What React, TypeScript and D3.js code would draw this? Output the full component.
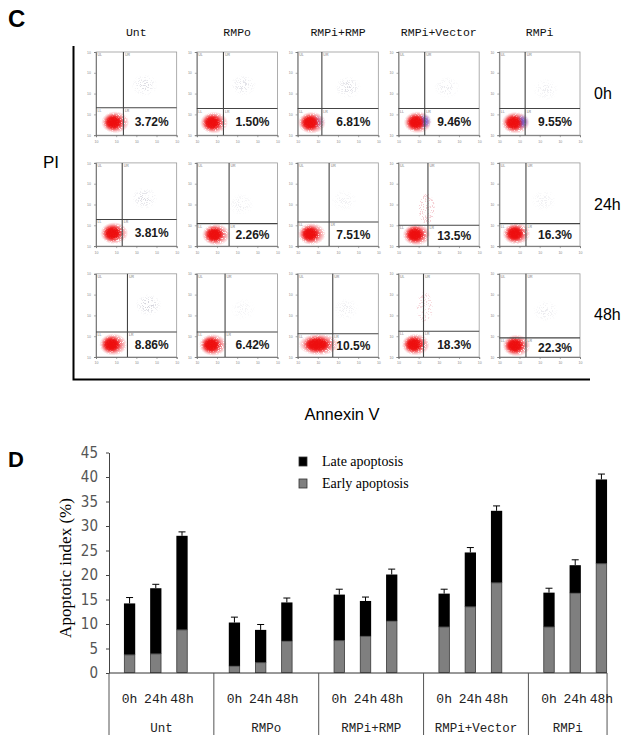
import { useRef, useEffect } from "react";
import * as d3 from "d3";

// groups and time points shared by both panels
const groups = ["Unt", "RMPo", "RMPi+RMP", "RMPi+Vector", "RMPi"];
const times = ["0h", "24h", "48h"];

// panel C: early apoptosis labels per time row, per group
const flowLabels = [
  ["3.72%", "1.50%", "6.81%", "9.46%", "9.55%"],
  ["3.81%", "2.26%", "7.51%", "13.5%", "16.3%"],
  ["8.86%", "6.42%", "10.5%", "18.3%", "22.3%"],
];
// quadrant gates (log10 decades) per time row, per group
const gateX = [
  [1.36, 1.32, 1.2, 1.3, 1.28],
  [1.3, 1.6, 1.56, 1.46, 1.32],
  [1.56, 1.4, 1.74, 1.24, 1.32],
];
const gateY = [
  [1.32, 1.28, 1.28, 1.28, 1.28],
  [1.28, 1.08, 1.16, 1.0, 1.08],
  [1.2, 1.2, 1.12, 1.24, 0.92],
];
// main (live cell) population centre, decades
const blobX = [
  [0.85, 0.75, 0.6, 0.85, 0.7],
  [0.8, 0.85, 0.6, 0.8, 0.75],
  [0.75, 0.7, 0.95, 0.75, 0.75],
];
const blobY = [
  [0.62, 0.6, 0.6, 0.62, 0.6],
  [0.62, 0.55, 0.58, 0.55, 0.6],
  [0.6, 0.58, 0.6, 0.6, 0.55],
];
// upper (late apoptotic) scatter cloud: x, y in decades, density 0..1
const upperX = [
  [2.4, 2.3, 2.5, 2.4, 2.3],
  [2.4, 2.2, 2.3, 1.4, 2.2],
  [2.6, 2.3, 2.4, 1.3, 2.3],
];
const upperY = [
  [2.4, 2.4, 2.3, 2.3, 2.2],
  [2.3, 2.0, 2.2, 1.8, 2.2],
  [2.5, 2.3, 2.3, 2.4, 2.2],
];
const upperDensity = [
  [0.6, 0.5, 0.6, 0.35, 0.3],
  [0.6, 0.3, 0.25, 0.8, 0.25],
  [0.8, 0.2, 0.3, 0.6, 0.35],
];
// blue early-apoptotic sub-population in 0h plots
const bluePop = [
  [0, 0, 0.3, 1, 1],
  [0, 0, 0, 0, 0],
  [0, 0, 0, 0, 0],
];

// panel D: per group, values for 0h, 24h, 48h
const earlyApoptosis = [
  [3.7, 3.9, 8.8],
  [1.4, 2.1, 6.5],
  [6.6, 7.5, 10.6],
  [9.4, 13.5, 18.4],
  [9.4, 16.3, 22.3],
];
const lateApoptosis = [
  [10.5, 13.4, 19.2],
  [8.9, 6.7, 7.9],
  [9.4, 7.2, 9.5],
  [6.8, 11.1, 14.7],
  [7.0, 5.7, 17.2],
];
const errorValues = [
  [1.2, 0.8, 0.8],
  [1.1, 1.1, 0.9],
  [1.1, 0.8, 1.1],
  [0.9, 1.0, 1.0],
  [0.9, 1.1, 1.1],
];
const yTicks = [0, 5, 10, 15, 20, 25, 30, 35, 40, 45];

const mono = "'Liberation Mono', 'DejaVu Sans Mono', monospace";
const arial = "'Liberation Sans', Arial, sans-serif";
const times_ = "'Liberation Serif', 'Times New Roman', serif";

const App = () => {
  const svgRef = useRef(null);

  useEffect(() => {
    const svg = d3.select(svgRef.current);
    svg.selectAll("*").remove();

    const defs = svg.append("defs");
    const mkSpeckle = (id: string, offset: number) => {
      const f = defs
        .append("filter")
        .attr("id", id)
        .attr("x", "-20%")
        .attr("y", "-20%")
        .attr("width", "140%")
        .attr("height", "140%");
      f.append("feTurbulence")
        .attr("type", "fractalNoise")
        .attr("baseFrequency", 1.4)
        .attr("numOctaves", 1)
        .attr("seed", 7)
        .attr("result", "noise");
      f.append("feColorMatrix")
        .attr("in", "noise")
        .attr("type", "matrix")
        .attr("values", `0 0 0 0 0  0 0 0 0 0  0 0 0 0 0  22 0 0 0 ${offset}`)
        .attr("result", "mask");
      f.append("feComposite")
        .attr("in", "SourceGraphic")
        .attr("in2", "mask")
        .attr("operator", "in");
    };
    mkSpeckle("speckle", -12);
    mkSpeckle("speckleDense", -8);

    const soft = defs.append("filter").attr("id", "soft");
    soft.append("feGaussianBlur").attr("stdDeviation", 0.8);

    const mkGrad = (id: string, color: string, inner: number) => {
      const g = defs.append("radialGradient").attr("id", id);
      g.append("stop").attr("offset", "0%").attr("stop-color", color).attr("stop-opacity", 1);
      g.append("stop").attr("offset", `${inner}%`).attr("stop-color", color).attr("stop-opacity", 0.95);
      g.append("stop").attr("offset", "100%").attr("stop-color", color).attr("stop-opacity", 0);
    };
    mkGrad("redCore", "#ee1111", 70);
    mkGrad("redHalo", "#ef3b44", 35);
    mkGrad("grayCloud", "#8e8ea4", 30);
    mkGrad("blueCore", "#6a5cd8", 40);

    // ---------- Panel C ----------
    const c = svg.append("g");
    c.append("text")
      .attr("x", 8)
      .attr("y", 27)
      .attr("font-family", arial)
      .attr("font-weight", "bold")
      .attr("font-size", 24)
      .text("C");

    const colBand = d3.scaleBand().domain(groups).range([96, 580]).paddingInner(0.2);
    const rowBand = d3.scaleBand().domain(times).range([52, 357]).paddingInner(0.25);

    groups.forEach((g) => {
      c.append("text")
        .attr("x", (colBand(g) || 0) + colBand.bandwidth() / 2)
        .attr("y", 36)
        .attr("text-anchor", "middle")
        .attr("font-family", mono)
        .attr("font-size", 11.5)
        .attr("fill", "#111")
        .text(g);
    });

    times.forEach((t) => {
      c.append("text")
        .attr("x", 594)
        .attr("y", (rowBand(t) || 0) + rowBand.bandwidth() / 2 + 5)
        .attr("font-family", arial)
        .attr("font-size", 16)
        .text(t);
    });

    c.append("text")
      .attr("x", 43)
      .attr("y", 168)
      .attr("font-family", arial)
      .attr("font-size", 17)
      .text("PI");

    c.append("text")
      .attr("x", 342)
      .attr("y", 420)
      .attr("text-anchor", "middle")
      .attr("font-family", arial)
      .attr("font-size", 16.5)
      .text("Annexin V");

    c.append("path")
      .attr("d", "M73.5,46V379.5H590")
      .attr("fill", "none")
      .attr("stroke", "#000")
      .attr("stroke-width", 2);

    times.forEach((t, ri) => {
      groups.forEach((g, ci) => {
        const x0 = colBand(g) || 0;
        const y0 = rowBand(t) || 0;
        const w = colBand.bandwidth();
        const h = rowBand.bandwidth();
        const xs = d3.scaleLog().domain([1, 1e4]).range([x0, x0 + w]);
        const ys = d3.scaleLog().domain([1, 1e4]).range([y0 + h, y0]);
        const p = c.append("g");

        p.append("rect")
          .attr("x", x0)
          .attr("y", y0)
          .attr("width", w)
          .attr("height", h)
          .attr("fill", "#fff")
          .attr("stroke", "#9a9a9a")
          .attr("stroke-width", 0.8);

        const decades = [1, 10, 100, 1000, 10000];
        const ax = p
          .append("g")
          .attr("transform", `translate(${x0},0)`)
          .call(d3.axisLeft(ys).tickValues(decades).tickSize(2).tickFormat(() => "10"));
        const bx = p
          .append("g")
          .attr("transform", `translate(0,${y0 + h})`)
          .call(d3.axisBottom(xs).tickValues(decades).tickSize(2).tickFormat(() => "10"));
        [ax, bx].forEach((a) => {
          a.select(".domain").attr("stroke", "#666").attr("stroke-width", 0.8);
          a.selectAll("line").attr("stroke", "#777").attr("stroke-width", 0.6);
          a.selectAll("text").attr("font-size", 3.5).attr("fill", "#888");
        });

        // upper scatter cloud
        const dens = upperDensity[ri][ci];
        const streak = ci === 3 && ri > 0;
        p.append("ellipse")
          .attr("cx", xs(10 ** upperX[ri][ci]))
          .attr("cy", ys(10 ** upperY[ri][ci]))
          .attr("rx", streak ? 8 : 13)
          .attr("ry", streak ? 15 : 11)
          .attr("fill", streak ? "#e88a96" : "url(#grayCloud)")
          .attr("opacity", dens * 0.5)
          .attr("filter", "url(#speckle)");

        // main population halo + core
        const cx = xs(10 ** blobX[ri][ci]);
        const cy = ys(10 ** blobY[ri][ci]);
        const wide = ri === 2 && ci === 2 ? 1.45 : 1;
        p.append("ellipse")
          .attr("cx", cx + 2)
          .attr("cy", cy)
          .attr("rx", 14 * wide)
          .attr("ry", 11)
          .attr("fill", "url(#redHalo)")
          .attr("filter", "url(#speckleDense)");
        if (bluePop[ri][ci] > 0) {
          p.append("ellipse")
            .attr("cx", cx + 9)
            .attr("cy", cy - 1)
            .attr("rx", 6)
            .attr("ry", 7)
            .attr("fill", "url(#blueCore)")
            .attr("opacity", bluePop[ri][ci] * 0.85)
            .attr("filter", "url(#soft)");
        }
        p.append("ellipse")
          .attr("cx", cx)
          .attr("cy", cy)
          .attr("rx", 9 * wide)
          .attr("ry", 8)
          .attr("fill", "url(#redCore)")
          .attr("filter", "url(#soft)");

        // quadrant gates
        const gx = xs(10 ** gateX[ri][ci]);
        const gy = ys(10 ** gateY[ri][ci]);
        p.append("line")
          .attr("x1", gx)
          .attr("x2", gx)
          .attr("y1", y0)
          .attr("y2", y0 + h)
          .attr("stroke", "#444")
          .attr("stroke-width", 1.1);
        p.append("line")
          .attr("x1", x0)
          .attr("x2", x0 + w)
          .attr("y1", gy)
          .attr("y2", gy)
          .attr("stroke", "#444")
          .attr("stroke-width", 1.1);

        const corner = [
          [x0 + 1.5, y0 + 4, "UL"],
          [gx + 1.5, y0 + 4, "UR"],
          [x0 + 1.5, gy + 4, "LL"],
          [gx + 1.5, gy + 4, "LR"],
        ];
        corner.forEach(([x, y, s]) => {
          p.append("text")
            .attr("x", x as number)
            .attr("y", y as number)
            .attr("font-size", 3.5)
            .attr("fill", "#777")
            .attr("font-family", arial)
            .text(s as string);
        });

        p.append("text")
          .attr("x", x0 + w - 8)
          .attr("y", (gy + y0 + h) / 2 + 4.5)
          .attr("text-anchor", "end")
          .attr("font-family", arial)
          .attr("font-weight", "bold")
          .attr("font-size", 12)
          .attr("fill", "#1a1a1a")
          .text(flowLabels[ri][ci]);
      });
    });

    // ---------- Panel D ----------
    const dPanel = svg.append("g");
    dPanel
      .append("text")
      .attr("x", 8)
      .attr("y", 467)
      .attr("font-family", arial)
      .attr("font-weight", "bold")
      .attr("font-size", 22)
      .text("D");

    const slots = d3.range(19);
    const xScale = d3.scaleBand<number>().domain(slots).range([109, 622]).padding(0.57);
    const step = xScale.step();
    const slotX = (i: number) => 109 + i * step;
    const yScale = d3.scaleLinear().domain([0, 45]).range([673, 452.5]);

    const bars = groups.flatMap((g, gi) =>
      times.map((t, ti) => ({
        group: g,
        time: t,
        slot: gi * 4 + ti,
        early: earlyApoptosis[gi][ti],
        late: lateApoptosis[gi][ti],
        err: errorValues[gi][ti],
      })),
    );

    const yAxis = dPanel
      .append("g")
      .attr("transform", "translate(109,0)")
      .call(d3.axisLeft(yScale).tickValues(yTicks).tickSize(3).tickPadding(8).tickSizeOuter(0));
    yAxis.select(".domain").attr("stroke", "#444").attr("stroke-width", 1);
    yAxis.selectAll("line").attr("stroke", "#444");
    yAxis
      .selectAll("text")
      .attr("font-family", "'Liberation Sans Narrow', 'DejaVu Sans Condensed', sans-serif")
      .attr("font-size", 15)
      .attr("fill", "#555");

    dPanel
      .append("text")
      .attr("transform", "translate(71,568) rotate(-90)")
      .attr("text-anchor", "middle")
      .attr("font-family", times_)
      .attr("font-size", 17)
      .text("Apoptotic index (%)");

    // error bars
    const eb = dPanel.append("g").attr("stroke", "#000").attr("stroke-width", 1);
    bars.forEach((b) => {
      const cx = (xScale(b.slot) || 0) + xScale.bandwidth() / 2;
      const top = yScale(b.early + b.late);
      const et = yScale(b.early + b.late + b.err);
      eb.append("line").attr("x1", cx).attr("x2", cx).attr("y1", top).attr("y2", et);
      eb.append("line").attr("x1", cx - 3.5).attr("x2", cx + 3.5).attr("y1", et).attr("y2", et);
    });

    dPanel
      .append("g")
      .selectAll("rect.late")
      .data(bars)
      .join("rect")
      .attr("x", (d) => xScale(d.slot) || 0)
      .attr("width", xScale.bandwidth())
      .attr("y", (d) => yScale(d.early + d.late))
      .attr("height", (d) => yScale(d.early) - yScale(d.early + d.late))
      .attr("fill", "#000");

    dPanel
      .append("g")
      .selectAll("rect.early")
      .data(bars)
      .join("rect")
      .attr("x", (d) => (xScale(d.slot) || 0) + 0.4)
      .attr("width", xScale.bandwidth() - 0.8)
      .attr("y", (d) => yScale(d.early))
      .attr("height", (d) => yScale(0) - yScale(d.early) - 0.4)
      .attr("fill", "#7f7f7f")
      .attr("stroke", "#3a3a3a")
      .attr("stroke-width", 0.8);

    // category table below the axis
    const table = dPanel.append("g").attr("stroke", "#555").attr("stroke-width", 1);
    table
      .append("line")
      .attr("x1", 109)
      .attr("x2", slotX(19))
      .attr("y1", yScale(0))
      .attr("y2", yScale(0))
      .attr("stroke", "#333");
    [0, 4, 8, 12, 16, 19].forEach((s) => {
      table
        .append("line")
        .attr("x1", slotX(s))
        .attr("x2", slotX(s))
        .attr("y1", yScale(0))
        .attr("y2", 735);
    });

    bars.forEach((b) => {
      dPanel
        .append("text")
        .attr("x", (xScale(b.slot) || 0) + xScale.bandwidth() / 2)
        .attr("y", 703)
        .attr("text-anchor", "middle")
        .attr("font-family", mono)
        .attr("font-size", 13)
        .attr("fill", "#222")
        .text(b.time);
    });
    groups.forEach((g, gi) => {
      const end = gi === 4 ? 19 : gi * 4 + 4;
      dPanel
        .append("text")
        .attr("x", (slotX(gi * 4) + slotX(end)) / 2)
        .attr("y", 732)
        .attr("text-anchor", "middle")
        .attr("font-family", mono)
        .attr("font-size", 12.5)
        .attr("fill", "#222")
        .text(g);
    });

    // legend
    const legendItems = [
      { label: "Late apoptosis", fill: "#000" },
      { label: "Early apoptosis", fill: "#7f7f7f" },
    ];
    const legend = dPanel
      .append("g")
      .selectAll("g")
      .data(legendItems)
      .join("g")
      .attr("transform", (d, i) => `translate(299,${457 + i * 22})`);
    legend
      .append("rect")
      .attr("width", 8)
      .attr("height", 9)
      .attr("fill", (d) => d.fill)
      .attr("stroke", "#333")
      .attr("stroke-width", 0.8);
    legend
      .append("text")
      .attr("x", 23)
      .attr("y", 9)
      .attr("font-family", times_)
      .attr("font-size", 14)
      .text((d) => d.label);
  }, []);

  return (
    <svg
      ref={svgRef}
      width={636}
      height={748}
      style={{ position: "absolute", left: 0, top: 0, background: "#fff" }}
    ></svg>
  );
};

export default App;
